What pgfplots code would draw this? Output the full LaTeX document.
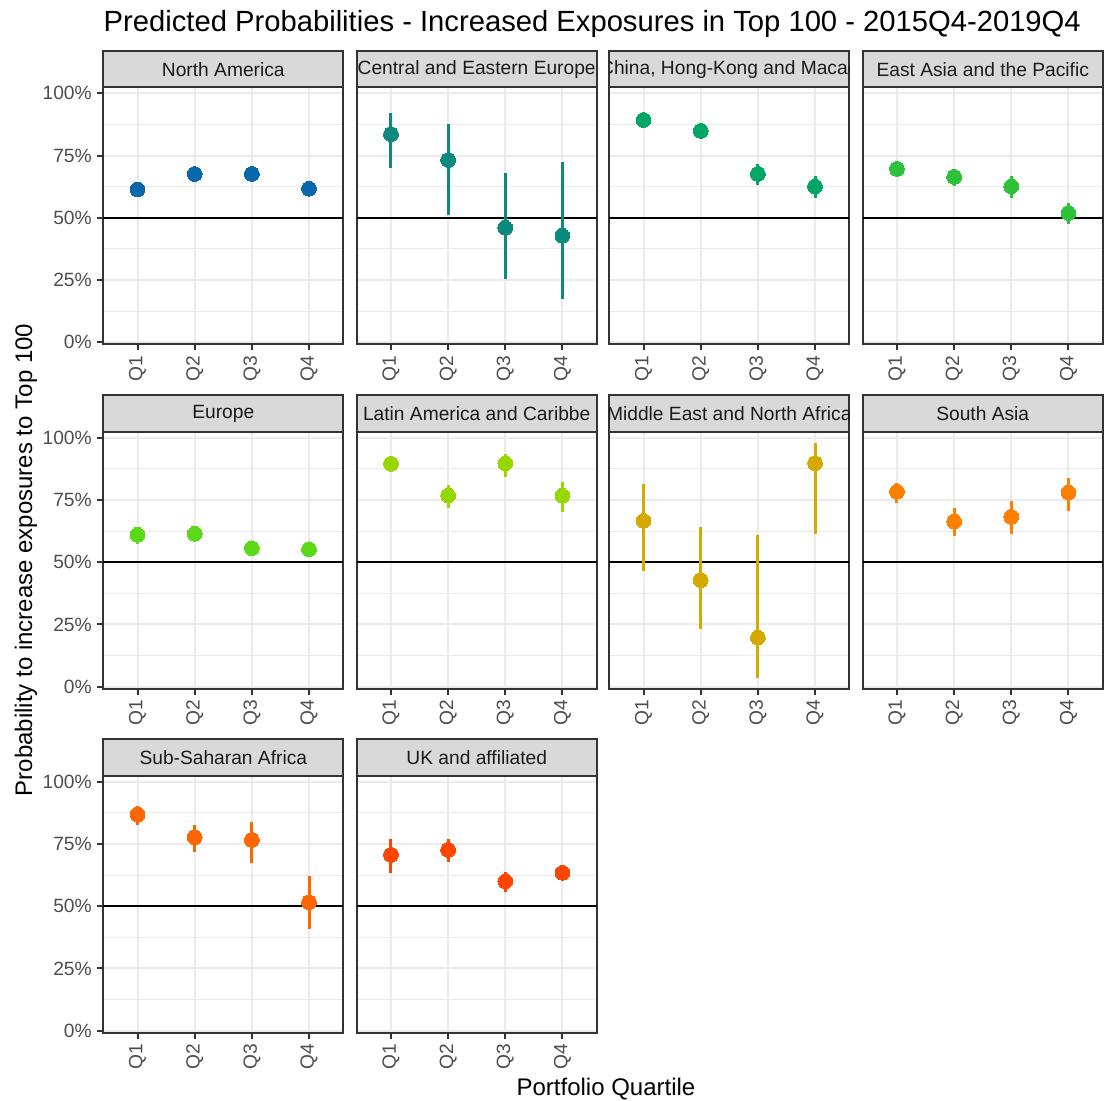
\documentclass[border=0pt]{standalone}
\usepackage{fontspec}
\setmainfont{Liberation Sans}
\usepackage{pgfplots}
\usepackage{pgfplotstable}
\pgfplotsset{compat=1.18}

\definecolor{grey92}{RGB}{235,235,235}
\definecolor{grey85}{RGB}{217,217,217}
\definecolor{grey20}{RGB}{51,51,51}
\definecolor{grey30}{RGB}{77,77,77}
\definecolor{grey10}{RGB}{26,26,26}
\definecolor{cNA}{RGB}{8,104,172}
\definecolor{cCEE}{RGB}{11,138,125}
\definecolor{cCHN}{RGB}{0,166,100}
\definecolor{cEA}{RGB}{45,194,58}
\definecolor{cEU}{RGB}{92,217,22}
\definecolor{cLA}{RGB}{151,215,0}
\definecolor{cME}{RGB}{212,170,0}
\definecolor{cSA}{RGB}{255,128,0}
\definecolor{cSSA}{RGB}{255,102,0}
\definecolor{cUK}{RGB}{255,69,0}

\newcommand\tickfont{\fontsize{9.6bp}{11bp}\selectfont}
\newcommand\stripfont{\fontsize{9.6bp}{11bp}\selectfont}
\newcommand\axtitlefont{\fontsize{12bp}{14bp}\selectfont}
\newcommand\titlefont{\fontsize{14.6bp}{17bp}\selectfont}

% x = quartile, y = probability (%), lo/hi = interval
\pgfplotstableread{
x y lo hi
1 61.4 61.4 61.4
2 67.6 67.6 67.6
3 67.6 67.6 67.6
4 61.7 61.7 61.7
}\tNA
\pgfplotstableread{
x y lo hi
1 83.6 69.8 92.0
2 73.2 51.1 87.7
3 46.0 25.3 67.8
4 42.8 17.3 72.3
}\tCEE
\pgfplotstableread{
x y lo hi
1 89.3 89.3 89.3
2 84.9 84.9 84.9
3 67.6 63.1 71.6
4 62.6 58.0 66.9
}\tCHN
\pgfplotstableread{
x y lo hi
1 69.6 69.6 69.6
2 66.4 62.7 69.4
3 62.6 58.0 66.9
4 51.9 47.6 55.9
}\tEA
\pgfplotstableread{
x y lo hi
1 61.0 57.5 64.2
2 61.4 61.4 61.4
3 55.6 55.6 55.6
4 55.2 55.2 55.2
}\tEU
\pgfplotstableread{
x y lo hi
1 89.5 89.5 89.5
2 76.8 71.8 81.0
3 89.7 84.2 93.3
4 76.7 70.0 82.3
}\tLA
\pgfplotstableread{
x y lo hi
1 66.6 46.5 81.6
2 42.8 23.3 64.2
3 19.7 3.7 60.9
4 89.8 61.3 97.7
}\tME
\pgfplotstableread{
x y lo hi
1 78.3 73.9 82.0
2 66.4 60.5 71.6
3 68.2 61.3 74.5
4 78.0 70.5 84.0
}\tSA
\pgfplotstableread{
x y lo hi
1 86.8 82.5 90.2
2 77.7 71.7 82.8
3 76.6 67.4 83.9
4 51.6 41.0 62.0
}\tSSA
\pgfplotstableread{
x y lo hi
1 70.6 63.3 77.0
2 72.6 67.8 77.0
3 60.0 55.8 63.8
4 63.4 63.4 63.4
}\tUK

\pgfplotsset{
  panel/.style={
    scale only axis, width=120bp, height=128.5bp,
    xmin=0.4, xmax=4.6, ymin=-0.8, ymax=102.4,
    xtick={1,2,3,4}, xticklabels={Q1,Q2,Q3,Q4},
    ytick={0,25,50,75,100}, yticklabels={0\%,25\%,50\%,75\%,100\%},
    minor ytick={12.5,37.5,62.5,87.5},
    xmajorgrids, ymajorgrids, yminorgrids,
    major grid style={draw=grey92, line width=1bp},
    minor grid style={draw=grey92, line width=0.5bp},
    axis line style={draw=grey20, line width=1bp},
    tick align=outside, tick pos=left,
    major tick length=3bp, minor tick length=0pt,
    tick style={grey20, line width=1bp},
    tick label style={font=\tickfont, text=grey30, inner sep=0pt},
    yticklabel style={xshift=-2.6bp},
    xticklabel style={yshift=-2.4bp, rotate=90, anchor=east},
  },
  noy/.style={yticklabels={}, ytick style={draw=none}},
}

\newcommand{\panel}[6]{%
  \begin{axis}[panel, at={(#1,#2)}, anchor=north west, #5]
    \addplot[black, line width=1bp, forget plot] coordinates {(0.4,50) (4.6,50)};
    \addplot[forget plot, draw=none, mark=none,
      error bars/.cd, y dir=both, y explicit, error mark=none,
      error bar style={draw=#3, line width=1.5bp, solid}]
      table[x=x, y=y, y error plus expr=\thisrow{hi}-\thisrow{y},
            y error minus expr=\thisrow{y}-\thisrow{lo}] {#4};
    \addplot[only marks, mark=*, mark size=3.7bp,
      mark options={fill=#3, draw=#3, line width=0pt}]
      table[x=x, y=y] {#4};
  \end{axis}
  \draw[fill=grey85, draw=grey20, line width=1bp] (#1,#2) rectangle ++(120bp,18.15bp);
  \begin{scope}
    \clip (#1,#2) rectangle ++(120bp,18.15bp);
    \node[font=\stripfont, text=grey10, inner sep=0pt, xshift=60bp, yshift=9.07bp] at (#1,#2) {#6};
  \end{scope}
}

\begin{document}
\begin{tikzpicture}
  \path[use as bounding box] (0,0) rectangle (553.5bp,-550.5bp);

  \panel{51.65bp}{-43.65bp}{cNA}{\tNA}{}{North America}
  \panel{178.35bp}{-43.65bp}{cCEE}{\tCEE}{noy}{Central and Eastern Europe}
  \panel{304.65bp}{-43.65bp}{cCHN}{\tCHN}{noy}{China, Hong-Kong and Macao}
  \panel{431.35bp}{-43.65bp}{cEA}{\tEA}{noy}{East Asia and the Pacific}

  \panel{51.65bp}{-215.85bp}{cEU}{\tEU}{}{Europe}
  \panel{178.35bp}{-215.85bp}{cLA}{\tLA}{noy}{Latin America and Caribbe}
  \panel{304.65bp}{-215.85bp}{cME}{\tME}{noy}{Middle East and North Africa}
  \panel{431.35bp}{-215.85bp}{cSA}{\tSA}{noy}{South Asia}

  \panel{51.65bp}{-387.85bp}{cSSA}{\tSSA}{}{Sub-Saharan Africa}
  \panel{178.35bp}{-387.85bp}{cUK}{\tUK}{noy}{UK and affiliated}

  \node[anchor=base west, font=\titlefont, inner sep=0pt] at (51.65bp,-15.5bp)
    {Predicted Probabilities - Increased Exposures in Top 100 - 2015Q4-2019Q4};
  \node[anchor=base, font=\axtitlefont, inner sep=0pt] at (303bp,-547.75bp) {Portfolio Quartile};
  \node[anchor=base, rotate=90, font=\axtitlefont, inner sep=0pt] at (16bp,-280bp)
    {Probability to increase exposures to Top 100};
\end{tikzpicture}
\end{document}
